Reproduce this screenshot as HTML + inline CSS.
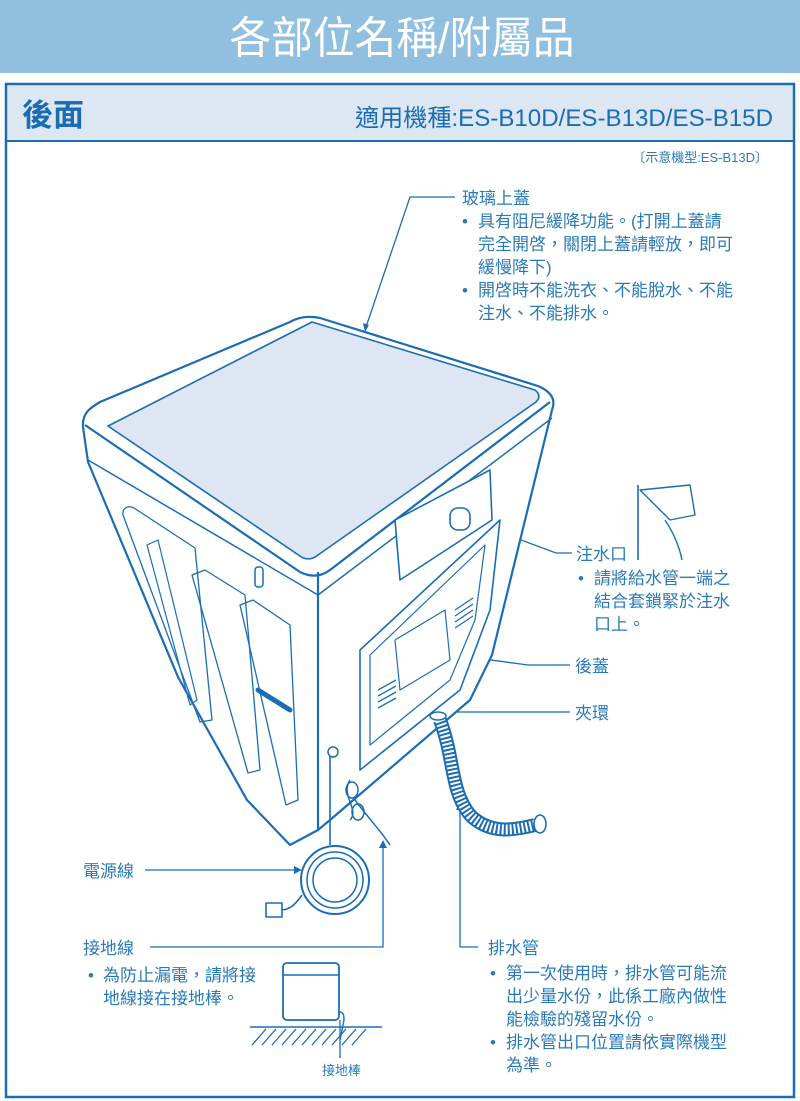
<!DOCTYPE html>
<html><head><meta charset="utf-8"><style>
html,body{margin:0;padding:0;background:#fff;width:800px;height:1101px;overflow:hidden}
svg text{font-family:"Liberation Sans","Noto Sans CJK TC",sans-serif}
</style></head><body>
<svg width="800" height="1101" viewBox="0 0 800 1101" xmlns="http://www.w3.org/2000/svg">
<rect x="0" y="0" width="800" height="73" fill="#91bfdf"/>
<text x="402" y="53" text-anchor="middle" font-size="44" fill="#fff" textLength="345" lengthAdjust="spacingAndGlyphs">各部位名稱/附屬品</text>
<rect x="6" y="84" width="788" height="1013" fill="#fff" stroke="#1b6db3" stroke-width="2.5"/>
<rect x="7.5" y="85.5" width="785" height="55" fill="#dce7f3"/>
<line x1="7" y1="141" x2="793" y2="141" stroke="#1b6db3" stroke-width="2"/>
<text x="22" y="126" font-size="31" font-weight="bold" fill="#1b6db3">後面</text>
<text x="773" y="126" text-anchor="end" font-size="24" fill="#1b6db3" textLength="418" lengthAdjust="spacingAndGlyphs">適用機種:ES-B10D/ES-B13D/ES-B15D</text>
<text x="768" y="162" text-anchor="end" font-size="13" fill="#2a7ab8">〔示意機型:ES-B13D〕</text>

<g fill="#2a7ab8" font-size="17">
<text x="462" y="204">玻璃上蓋</text>
<text x="462" y="227">•</text><text x="478" y="227">具有阻尼緩降功能。(打開上蓋請</text>
<text x="478" y="250">完全開啓，關閉上蓋請輕放，即可</text>
<text x="478" y="273">緩慢降下)</text>
<text x="462" y="296">•</text><text x="478" y="296">開啓時不能洗衣、不能脫水、不能</text>
<text x="478" y="319">注水、不能排水。</text>
<text x="576" y="560">注水口</text>
<text x="578" y="584">•</text><text x="594" y="584">請將給水管一端之</text>
<text x="594" y="607">結合套鎖緊於注水</text>
<text x="594" y="630">口上。</text>
<text x="575" y="672">後蓋</text>
<text x="575" y="719">夾環</text>
<text x="83" y="877">電源線</text>
<text x="83" y="954">接地線</text>
<text x="88" y="981">•</text><text x="103" y="981">為防止漏電，請將接</text>
<text x="103" y="1004">地線接在接地棒。</text>
<text x="488" y="954">排水管</text>
<text x="490" y="979">•</text><text x="506" y="979">第一次使用時，排水管可能流</text>
<text x="506" y="1002">出少量水份，此係工廠內做性</text>
<text x="506" y="1025">能檢驗的殘留水份。</text>
<text x="490" y="1048">•</text><text x="506" y="1048">排水管出口位置請依實際機型</text>
<text x="506" y="1071">為準。</text>
<text x="322" y="1075" font-size="13">接地棒</text>
</g>

<g fill="none" stroke="#1b6db3" stroke-width="1.3">
<polyline points="455,197 410,197 365,330"/>
<polyline points="572,553 556,553 470,521"/>
<polyline points="570,665 528,665 432,652"/>
<polyline points="570,712 450,712"/>
<polyline points="145,870 300,870"/>
<polyline points="150,947 383,947 383,843"/>
<polyline points="478,947 460,947 460,805"/>
<line x1="340" y1="1020" x2="340" y2="1058"/>
</g>
<g fill="#1b6db3">
<path d="M365,332 l-2,-9 l6,2z"/><path d="M468,520 l9,0 l-3,5z"/>
<path d="M430,652 l8,-4 l0,7z"/><path d="M302,870 l-8,-4 l0,8z"/>
<path d="M383,840 l-4,8 l8,0z"/><path d="M460,802 l-4,8 l8,0z"/>
</g>

<g stroke="#1b6db3" stroke-width="2.2" fill="#fff" stroke-linejoin="round">
<path d="M83,427 C82,413 90,408 100,402 L290,322 C300,316 310,316 320,318 L538,386 C552,392 556,400 552,410 L492,655 L470,700 L330,820 L318,830 L290,845 L247,800 L178,677 L88,462 Z"/>
<path d="M318,572 L318,830" fill="none"/>
<path d="M88,460 L318,595 L552,418" fill="none" stroke-width="1.5"/>
<path d="M85,425 L300,572 C312,578 322,576 330,570 L550,402" fill="none"/>
<path d="M108,426 L312,322 L535,390 C540,394 540,398 536,402 L318,555 C312,560 305,560 300,556 Z" fill="#dde6f2" stroke-width="1.6"/>
<path d="M123,515 C122,508 128,505 134,508 L195,548 L212,720 L200,722 Z" fill="none" stroke-width="1.3"/>
<path d="M147,545 L158,540 L197,700 L190,705 Z" fill="none" stroke-width="1.2"/>
<path d="M192,575 L205,570 L245,595 L260,770 L248,773 Z" fill="none" stroke-width="1.3"/>
<path d="M240,605 L253,600 L290,625 L298,800 L286,805 Z" fill="none" stroke-width="1.3"/>
<rect x="255" y="567" width="8" height="20" rx="3" stroke-width="1.5"/>
<path d="M258,690 L290,710" stroke-width="5" stroke-linecap="round"/>
<path d="M360,650 L500,520 L490,610 L460,690 L360,770 Z" fill="#fff" stroke-width="1.6"/>
<path d="M370,655 L485,545 L475,620 L450,680 L370,745 Z" fill="none" stroke-width="1.2"/>
<path d="M395,640 L445,610 L450,660 L400,690 Z" fill="none" stroke-width="1.2"/>
<path d="M378,690 l18,-10 M378,696 l18,-10 M378,702 l18,-10 M378,708 l18,-10 M455,610 l18,-12 M455,616 l18,-12 M455,622 l18,-12 M455,628 l18,-12" fill="none" stroke-width="1.3"/>
<path d="M395,520 L490,470 L492,520 L400,580 Z" fill="#fff" stroke-width="1.6"/>
<rect x="450" y="508" width="20" height="22" rx="8" stroke-width="1.6"/>
<path d="M440,720 C455,760 450,790 470,815 C490,835 515,830 535,825" fill="none" stroke-width="14"/>
<path d="M440,720 C455,760 450,790 470,815 C490,835 515,830 535,825" fill="none" stroke="#fff" stroke-width="10" stroke-dasharray="2 2"/>
<ellipse cx="540" cy="824" rx="6" ry="9" stroke-width="1.6"/>
<ellipse cx="438" cy="716" rx="8" ry="4" stroke-width="1.5"/>
<line x1="330" y1="750" x2="330" y2="845" stroke-width="1.6"/>
<circle cx="333" cy="752" r="5" stroke-width="1.5"/>
<circle cx="335" cy="880" r="34" fill="none" stroke-width="2"/>
<circle cx="335" cy="880" r="28" fill="none" stroke-width="1.5"/>
<circle cx="335" cy="880" r="22" fill="none" stroke-width="1.5"/>
<path d="M302,895 C295,905 290,910 280,910" fill="none" stroke-width="1.6"/>
<rect x="266" y="903" width="16" height="14" stroke-width="1.6"/>
<path d="M350,780 C340,795 360,810 350,820 M355,800 C370,820 380,830 390,845" fill="none" stroke-width="1.5"/>
<ellipse cx="352" cy="790" rx="6" ry="8" fill="none" stroke-width="1.5"/>
<ellipse cx="358" cy="812" rx="6" ry="8" fill="none" stroke-width="1.5"/>
<line x1="638" y1="485" x2="638" y2="560" stroke-width="1.6"/>
<path d="M640,490 L690,485 L695,515 L670,520 Z" fill="none" stroke-width="1.4"/>
<path d="M665,520 C675,535 680,550 682,560" fill="none" stroke-width="1.4"/>
<rect x="283" y="963" width="56" height="57" rx="4" stroke-width="1.8"/>
<line x1="283" y1="975" x2="339" y2="975" stroke-width="1.5"/>
<line x1="250" y1="1027" x2="382" y2="1027" stroke-width="1.6"/>
<path d="M252,1045 l14,-16 M262,1045 l14,-16 M272,1045 l14,-16 M282,1045 l14,-16 M292,1045 l14,-16 M302,1045 l14,-16 M312,1045 l14,-16 M322,1045 l14,-16 M332,1045 l14,-16 M342,1045 l14,-16 M352,1045 l14,-16" fill="none" stroke-width="1.3"/>
<path d="M339,1012 C344,1012 344,1016 344,1020 L340,1040" fill="none" stroke-width="1.4"/>
</g>
</svg>
</body></html>
